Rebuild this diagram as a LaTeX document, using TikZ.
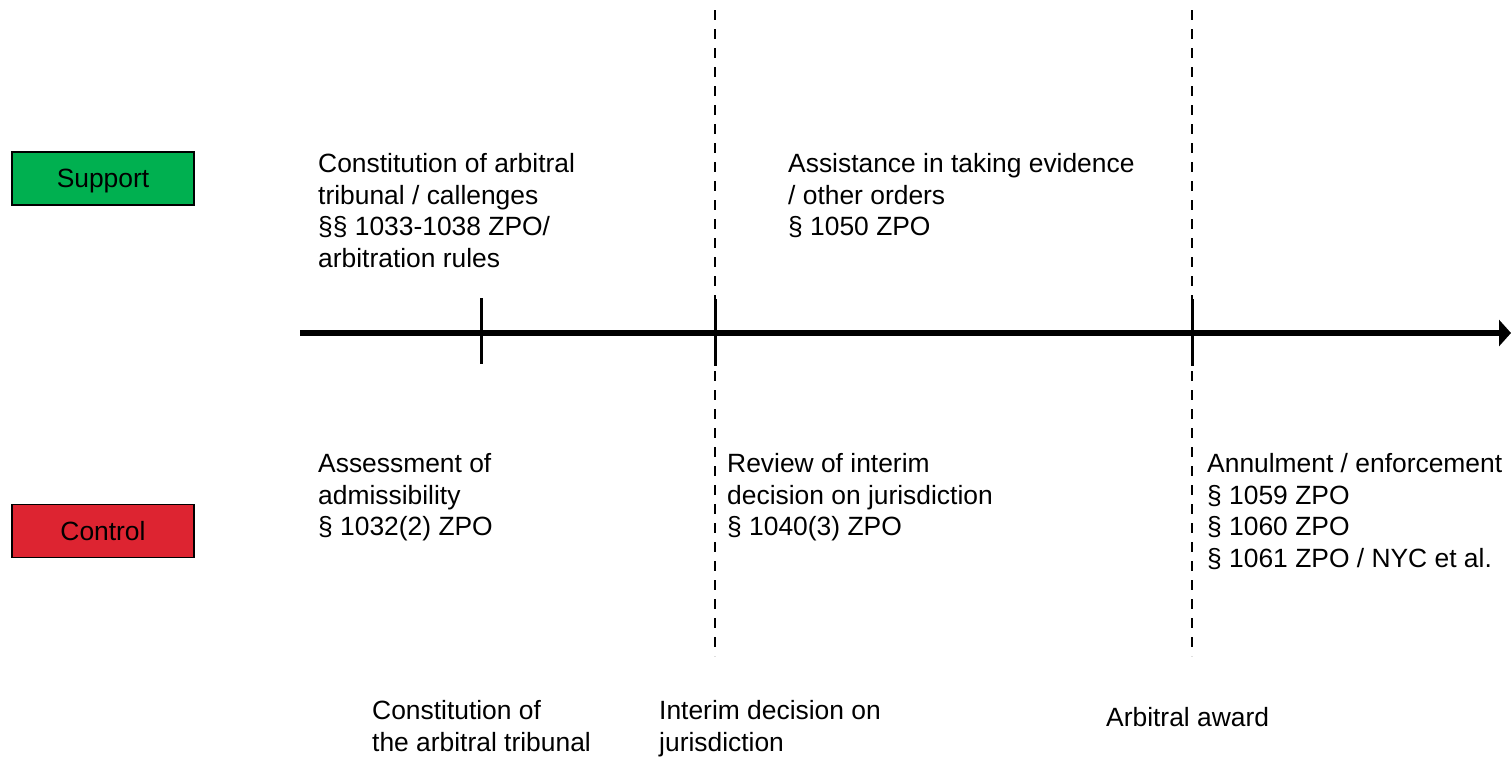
\documentclass[tikz,border=0pt]{standalone}
\usepackage{fontspec}
\setmainfont{Liberation Sans}
\usetikzlibrary{arrows.meta}
\definecolor{supgreen}{RGB}{0,176,80}
\definecolor{ctlred}{RGB}{221,36,49}
\begin{document}
\begin{tikzpicture}[x=1pt,y=-1pt,
  every node/.style={font=\fontsize{26.4}{31.8}\selectfont},
  label box/.style={draw=black,line width=1.5pt,minimum width=182pt,minimum height=53pt,inner sep=0pt,text depth=0pt},
  info/.style={anchor=north west,inner sep=0pt,align=left},
  timeline/.style={line width=6.5pt,-{Triangle[length=12pt,width=26pt]}},
  tick/.style={line width=3pt},
  phase/.style={line width=2pt,dash pattern=on 10pt off 9pt}]
\useasboundingbox (0,0) rectangle (1511,756);
% side labels
\node[label box,fill=supgreen] (support) at (103,178.5) {Support};
\node[label box,fill=ctlred] (control) at (103,531) {Control};
% timeline
\coordinate (tlstart) at (300,333);
\coordinate (tlend) at (1511,333);
\draw[timeline] (tlstart) -- (tlend);
% ticks
\coordinate (t1a) at (481,298); \coordinate (t1b) at (481,364);
\coordinate (t2a) at (715,299); \coordinate (t2b) at (715,366);
\coordinate (t3a) at (1192,299); \coordinate (t3b) at (1192,366);
\draw[tick] (t1a) -- (t1b);
\draw[tick] (t2a) -- (t2b);
\draw[tick] (t3a) -- (t3b);
% dashed phase lines
\coordinate (d1a) at (715,10); \coordinate (d1b) at (715,656);
\coordinate (d2a) at (1192,10); \coordinate (d2b) at (1192,656);
\draw[phase] (d1a) -- (d1b);
\draw[phase] (d2a) -- (d2b);
% support texts
\node[info] (sup1) at (318,153) {Constitution of arbitral\\tribunal / callenges\\§§ 1033-1038 ZPO/\\arbitration rules};
\node[info] (sup2) at (788,153) {Assistance in taking evidence\\/ other orders\\§ 1050 ZPO};
% control texts
\node[info] (ctl1) at (318,453) {Assessment of\\admissibility\\§ 1032(2) ZPO};
\node[info] (ctl2) at (727,453) {Review of interim\\decision on jurisdiction\\§ 1040(3) ZPO};
\node[info] (ctl3) at (1207,453) {Annulment / enforcement\\§ 1059 ZPO\\§ 1060 ZPO\\§ 1061 ZPO / NYC et al.};
% milestone texts
\node[info] (m1) at (372,700) {Constitution of\\the arbitral tribunal};
\node[info] (m2) at (659,700) {Interim decision on\\jurisdiction};
\node[info] (m3) at (1106,707) {Arbitral award};
\end{tikzpicture}
\end{document}
